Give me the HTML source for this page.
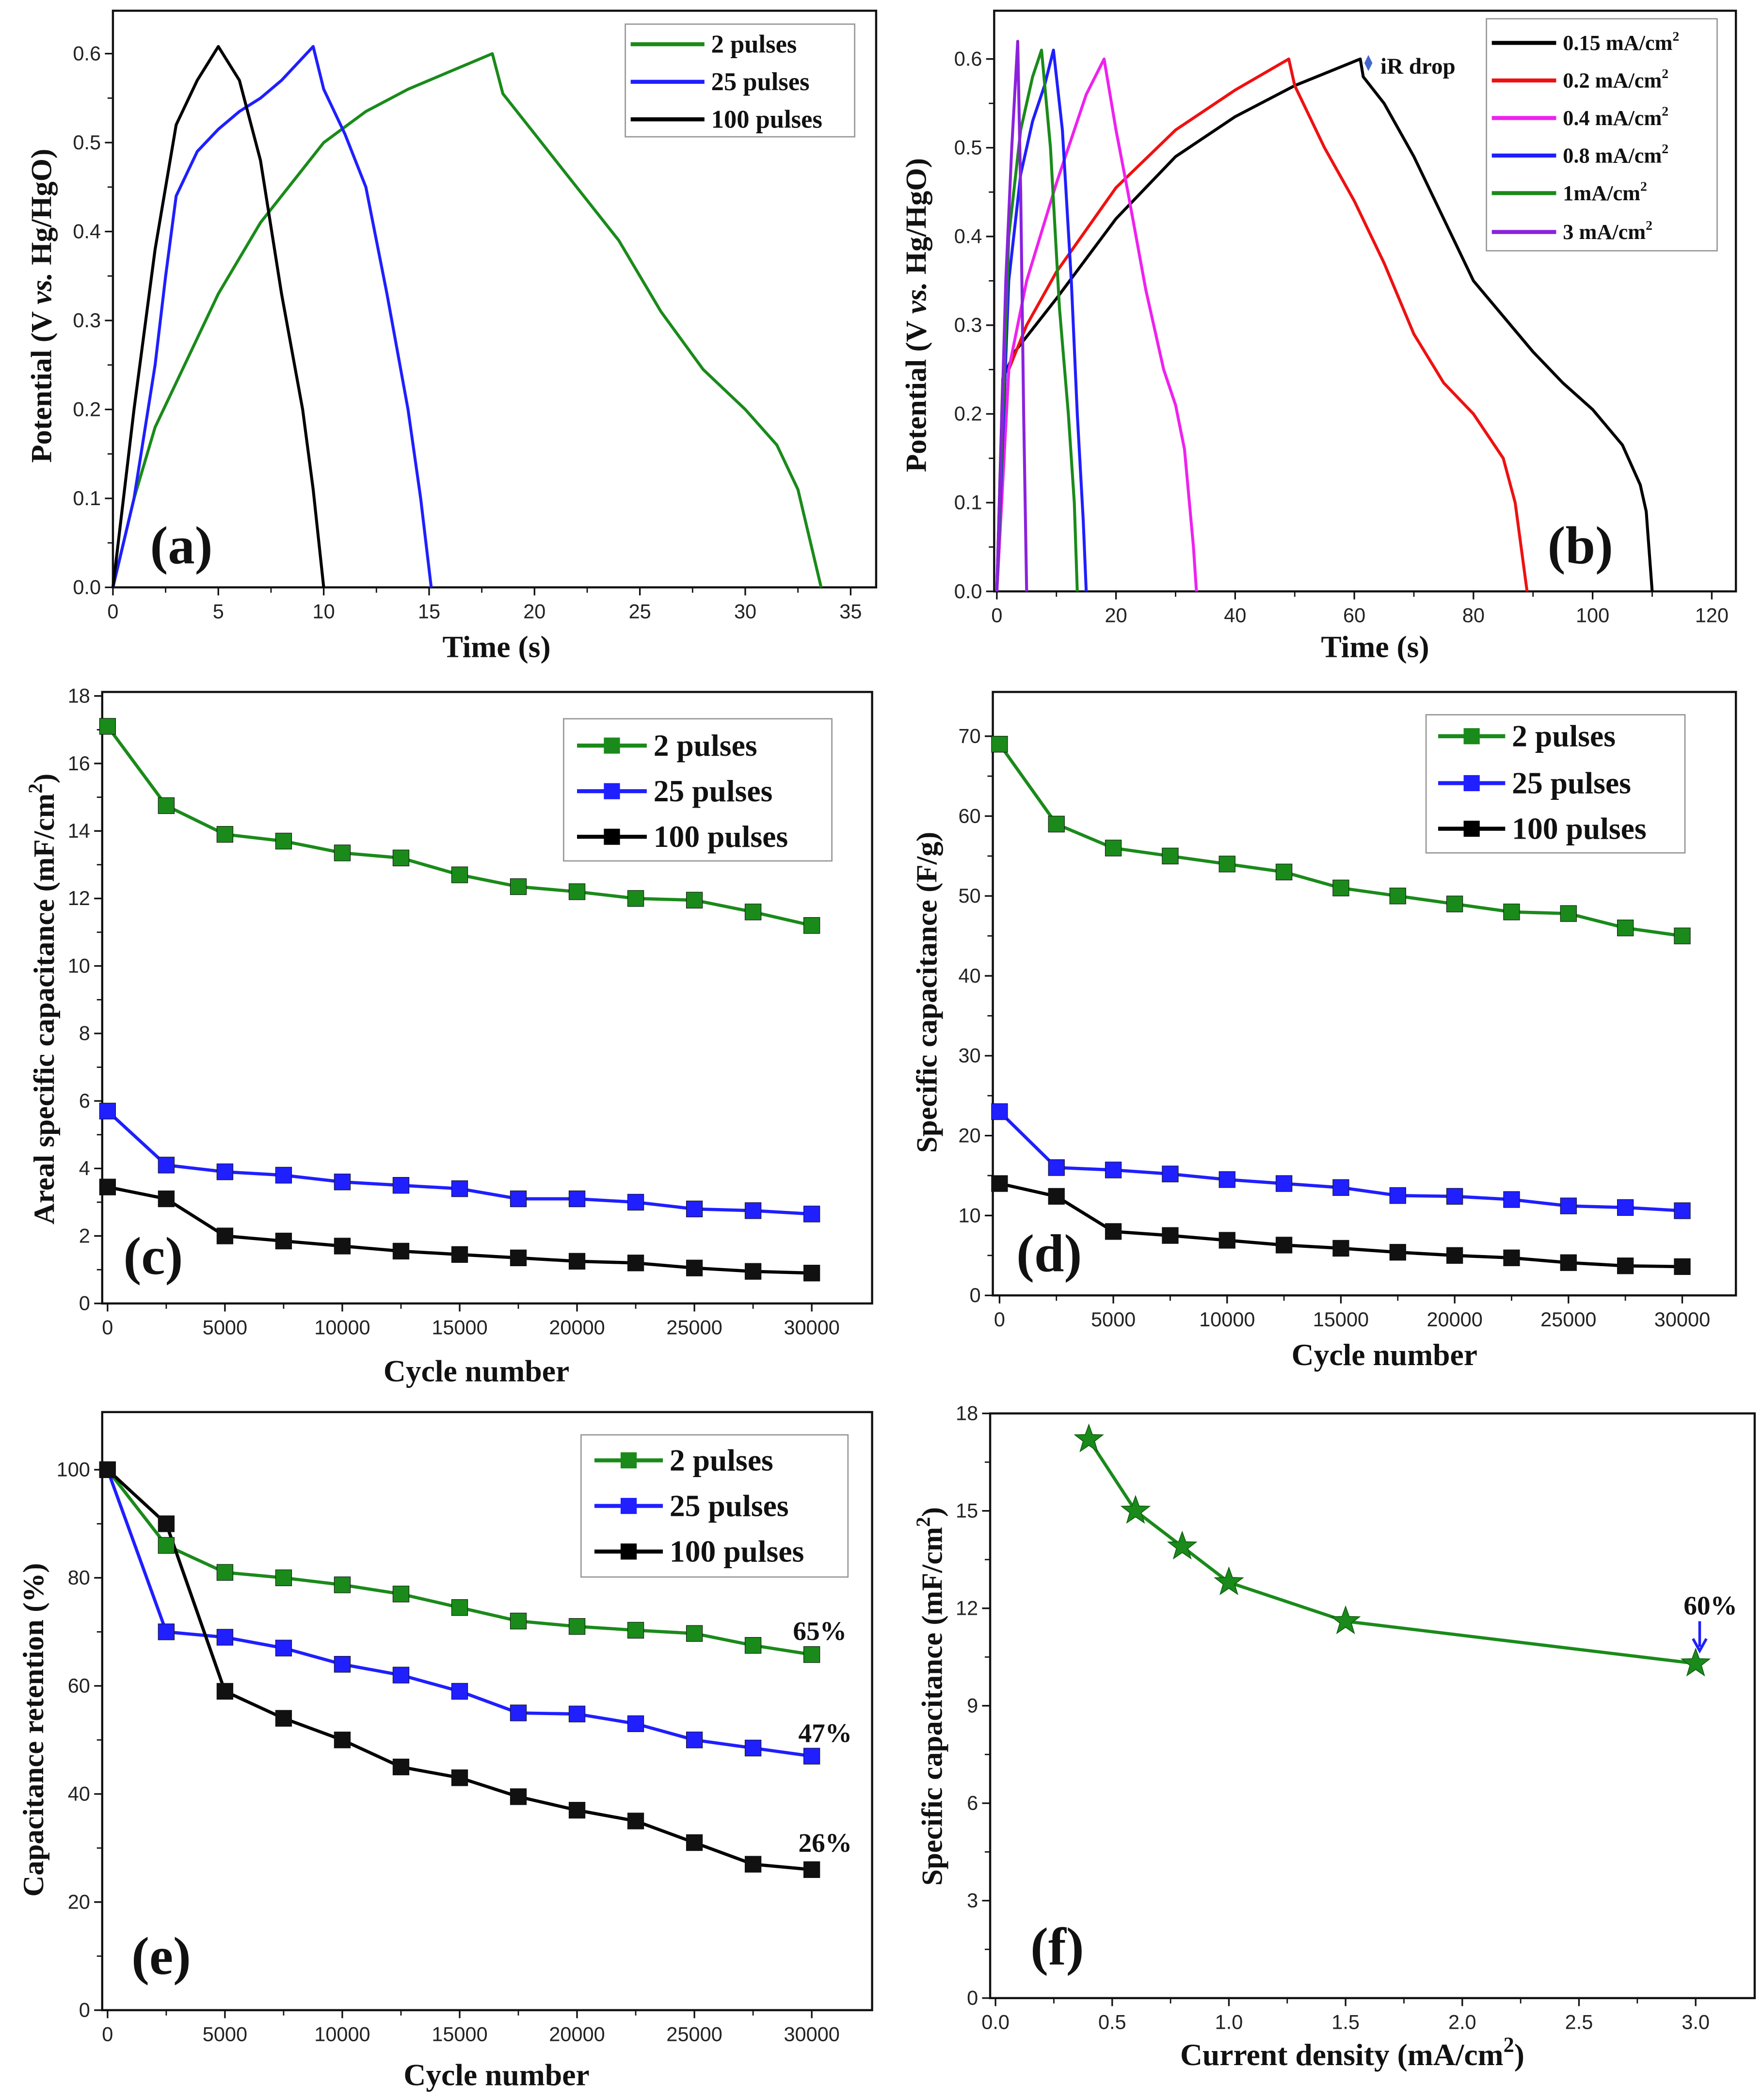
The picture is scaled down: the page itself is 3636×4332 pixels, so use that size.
<!DOCTYPE html>
<html><head><meta charset="utf-8">
<style>
html,body{margin:0;padding:0;background:#fff;}
svg{display:block;}
.tk{font-family:"Liberation Sans",sans-serif;font-size:15px;fill:#222;}
.ttl{font-family:"Liberation Serif",serif;font-weight:bold;fill:#111;}
</style></head>
<body>
<svg id="fig" width="3636" height="4332" viewBox="0 0 1314 1566" xmlns="http://www.w3.org/2000/svg"></svg>
<script>
// ---------- data ----------
const aGreenT=[0,1,2,3,5,7,9,10,12,14,16,18,18.5,20,22,24,26,28,30,31.5,32.5,33.2,33.6];
const aGreenV=[0,0.1,0.18,0.23,0.33,0.41,0.47,0.5,0.535,0.56,0.58,0.6,0.555,0.51,0.45,0.39,0.31,0.245,0.2,0.16,0.11,0.04,0];
const aBlueT=[0,1,2,2.5,3,4,5,6,7,8,9.5,10,11,12,13,14,14.6,15.1];
const aBlueV=[0,0.1,0.25,0.35,0.44,0.49,0.515,0.535,0.55,0.57,0.608,0.56,0.51,0.45,0.33,0.2,0.1,0];
const aBlackT=[0,1,2,3,4,5,6,7,8,9,9.5,10];
const aBlackV=[0,0.2,0.38,0.52,0.57,0.608,0.57,0.48,0.33,0.2,0.11,0];
const b015T=[0,1,3,10,20,30,40,50,61,61.5,65,70,75,80,85,90,95,100,105,108,109,110];
const b015V=[0,0.24,0.27,0.33,0.42,0.49,0.535,0.57,0.6,0.58,0.55,0.49,0.42,0.35,0.31,0.27,0.235,0.205,0.165,0.12,0.09,0];
const b02T=[0,2,5,10,20,30,40,49,50,55,60,65,70,75,80,85,87,88,89];
const b02V=[0,0.25,0.3,0.36,0.455,0.52,0.565,0.6,0.57,0.5,0.44,0.37,0.29,0.235,0.2,0.15,0.1,0.05,0];
const b04T=[0,2,5,10,15,18,20,22,25,28,30,31.5,33,33.5];
const b04V=[0,0.25,0.35,0.46,0.56,0.6,0.52,0.45,0.34,0.25,0.21,0.16,0.05,0];
const b08T=[0,2,4,6,8,9.5,11,12.5,13.5,14.5,15];
const b08V=[0,0.35,0.47,0.53,0.57,0.61,0.52,0.35,0.2,0.08,0];
const b1T=[0,2,4,6,7.5,9,10.5,12,13,13.5];
const b1V=[0,0.4,0.52,0.58,0.61,0.5,0.32,0.2,0.1,0];
const b3T=[0,1.5,2.5,3.5,4,4.5,5];
const b3V=[0,0.35,0.5,0.62,0.45,0.2,0];
const cycles=[0,2500,5000,7500,10000,12500,15000,17500,20000,22500,25000,27500,30000];
const cGreen=[17.1,14.75,13.9,13.7,13.35,13.2,12.7,12.35,12.2,12.0,11.95,11.6,11.2];
const cBlue=[5.7,4.1,3.9,3.8,3.6,3.5,3.4,3.1,3.1,3.0,2.8,2.75,2.65];
const cBlack=[3.45,3.1,2.0,1.85,1.7,1.55,1.45,1.35,1.25,1.2,1.05,0.95,0.9];
const dGreen=[69,59,56,55,54,53,51,50,49,48,47.8,46,45];
const dBlue=[23,16,15.7,15.2,14.5,14,13.5,12.5,12.4,12,11.2,11,10.6];
const dBlack=[14,12.4,8,7.5,6.9,6.3,5.9,5.4,5,4.7,4.1,3.7,3.6];
const eGreen=[100,86,81,80,78.7,77,74.5,72,71,70.3,69.7,67.5,65.8];
const eBlue=[100,70,69,67,64,62,59,55,54.8,53,50,48.5,47];
const eBlack=[100,90,59,54,50,45,43,39.5,37,35,31,27,26];
const fCurrent=[0.4,0.6,0.8,1.0,1.5,3.0];
const fCap=[17.2,15,13.9,12.8,11.6,10.3];
const aXTicks=[0,5,10,15,20,25,30,35];
const aYTicks=[0,0.1,0.2,0.3,0.4,0.5,0.6];
const bXTicks=[0,20,40,60,80,100,120];
const cYTicks=[0,2,4,6,8,10,12,14,16,18];
const cycTicks=[0,5000,10000,15000,20000,25000,30000];
const dYTicks=[0,10,20,30,40,50,60,70];
const eYTicks=[0,20,40,60,80,100];
const fXTicks=[0,0.5,1.0,1.5,2.0,2.5,3.0];
const fYTicks=[0,3,6,9,12,15,18];

// ---------- helpers ----------
const NS='http://www.w3.org/2000/svg';
const svg=document.getElementById('fig');
function el(tag,attrs,parent){const e=document.createElementNS(NS,tag);for(const k in attrs)e.setAttribute(k,attrs[k]);(parent||svg).appendChild(e);return e;}
function lin(d0,d1,p0,p1){return v=>p0+(v-d0)*(p1-p0)/(d1-d0);}

function axes(name,fx0,fy0,fx1,fy1,sx,sy,xt,yt,xminor,yminor,xfmt,yfmt){
  const g=el('g',{});
  
  
  const fr=el('rect',{x:fx0,y:fy0,width:fx1-fx0,height:fy1-fy0,fill:'none',stroke:'#111','stroke-width':1.6},g);
  
  
  xt.forEach((v,i)=>{
    const x=sx(v);
    el('line',{x1:x,y1:fy1,x2:x,y2:fy1+6,stroke:'#111','stroke-width':1.2},g);
    const t=el('text',{x:x,y:fy1+23,'text-anchor':'middle',class:'tk'},g);
    t.textContent=xfmt(v);
    
    
    if(i<xt.length-1 && xminor){const xm=sx(v+(xt[i+1]-v)/2);el('line',{x1:xm,y1:fy1,x2:xm,y2:fy1+4,stroke:'#111','stroke-width':1},g);}
  });
  yt.forEach((v,i)=>{
    const y=sy(v);
    el('line',{x1:fx0,y1:y,x2:fx0-6,y2:y,stroke:'#111','stroke-width':1.2},g);
    const t=el('text',{x:fx0-9,y:y+5,'text-anchor':'end',class:'tk'},g);
    t.textContent=yfmt(v);
    
    
    if(i<yt.length-1 && yminor){const ym=sy(v+(yt[i+1]-v)/2);el('line',{x1:fx0,y1:ym,x2:fx0-4,y2:ym,stroke:'#111','stroke-width':1},g);}
  });
  return g;
}
function line(name,xs,ys,sx,sy,color,w){
  const p=el('polyline',{points:xs.map((x,i)=>sx(x).toFixed(2)+','+sy(ys[i]).toFixed(2)).join(' '),fill:'none',stroke:color,'stroke-width':w||2.2,'stroke-linejoin':'round'});
  
  
  return p;
}
function squares(name,xs,ys,sx,sy,color,s){
  xs.forEach((x,i)=>{
    const r=el('rect',{x:sx(x)-s/2,y:sy(ys[i])-s/2,width:s,height:s,fill:color,stroke:'#111','stroke-width':0.4});
    
    
  });
}
function text(name,str,x,y,size,cls,anchor,rot){
  const t=el('text',{x:x,y:y,class:cls||'ttl','font-size':size,'text-anchor':anchor||'middle'});
  if(rot) t.setAttribute('transform','rotate(-90 '+x+' '+y+')');
  t.innerHTML=str;
  
  
  return t;
}
function legendBox(name,x,y,w,h){
  const r=el('rect',{x:x,y:y,width:w,height:h,fill:'#fff',stroke:'#999','stroke-width':1});
  
  
}
function legendEntry(name,x1,x2,y,color,label,size,marker){
  const l=el('line',{x1:x1,y1:y,x2:x2,y2:y,stroke:color,'stroke-width':3});
  
  
  if(marker){const m=el('rect',{x:(x1+x2)/2-6,y:y-6,width:12,height:12,fill:color});
    
    }
  text(name,label,x2+5,y+size*0.33,size,'ttl','start');
}
const f1=v=>v.toFixed(1), f0=v=>String(v);

// ---------- panel a ----------
{const sx=lin(0,35,84,634), sy=lin(0,0.6,438,40);
 axes('panel-a',84,8,653,438,sx,sy,aXTicks,aYTicks,true,true,f0,f1);
 line('curve-a-2-pulses',aGreenT,aGreenV,sx,sy,'#1a8a1a');
 line('curve-a-25-pulses',aBlueT,aBlueV,sx,sy,'#1f1fff');
 line('curve-a-100-pulses',aBlackT,aBlackV,sx,sy,'#000');
 legendBox('legend-a',466,18,171,84);
 legendEntry('legend-a-2-pulses',470,525,33,'#1a8a1a','2 pulses',19);
 legendEntry('legend-a-25-pulses',470,525,61,'#1f1fff','25 pulses',19);
 legendEntry('legend-a-100-pulses',470,525,89,'#000','100 pulses',19);
 text('x-axis-title-a','Time (s)',370,490,23);
 text('y-axis-title-a','Potential (V <tspan font-style="italic">vs.</tspan> Hg/HgO)',38,228,22,'ttl','middle',true);
 text('panel-label-a','(a)',135,420,40);
}
// ---------- panel b ----------
{const sx=lin(0,120,743,1276), sy=lin(0,0.6,441,44);
 axes('panel-b',741,8,1294,441,sx,sy,bXTicks,aYTicks,true,true,f0,f1);
 line('curve-b-0.15',b015T,b015V,sx,sy,'#000');
 line('curve-b-0.2',b02T,b02V,sx,sy,'#ee1111');
 line('curve-b-0.4',b04T,b04V,sx,sy,'#ee22ee');
 line('curve-b-0.8',b08T,b08V,sx,sy,'#1f1fff');
 line('curve-b-1',b1T,b1V,sx,sy,'#1a8a1a');
 line('curve-b-3',b3T,b3V,sx,sy,'#8a22dd');
 legendBox('legend-b',1108,14,172,173);
 const lb=[['0.15 mA/cm','#000'],['0.2 mA/cm','#ee1111'],['0.4 mA/cm','#ee22ee'],['0.8 mA/cm','#1f1fff'],['1mA/cm','#1a8a1a'],['3 mA/cm','#8a22dd']];
 const ly=[32,60,88,116,144,173];
 lb.forEach((e,i)=>legendEntry('legend-b-entry',1112,1160,ly[i],e[1],e[0]+'<tspan dy="-7" font-size="10">2</tspan>',16));
 const dm=el('path',{d:'M1020,41 L1023,47 L1020,53 L1017,47 Z',fill:'#4466cc'});
 
 
 text('ir-drop-label','iR drop',1029,55,17,'ttl','start');
 text('x-axis-title-b','Time (s)',1025,490,23);
 text('y-axis-title-b','Potential (V <tspan font-style="italic">vs.</tspan> Hg/HgO)',690,235,22,'ttl','middle',true);
 text('panel-label-b','(b)',1178,420,40);
}
// ---------- panel c ----------
{const sx=lin(0,30000,80,605), sy=lin(0,18,972,519);
 axes('panel-c',76,516,650,972,sx,sy,cycTicks,cYTicks,true,true,f0,f0);
 line('series-c-2-pulses',cycles,cGreen,sx,sy,'#1a8a1a',2.4);
 line('series-c-25-pulses',cycles,cBlue,sx,sy,'#1f1fff',2.4);
 line('series-c-100-pulses',cycles,cBlack,sx,sy,'#000',2.4);
 squares('series-c-2-pulses',cycles,cGreen,sx,sy,'#1a8a1a',12);
 squares('series-c-25-pulses',cycles,cBlue,sx,sy,'#1f1fff',12);
 squares('series-c-100-pulses',cycles,cBlack,sx,sy,'#111',12);
 legendBox('legend-c',420,536,200,106);
 legendEntry('legend-c-2-pulses',430,482,556,'#1a8a1a','2 pulses',23,true);
 legendEntry('legend-c-25-pulses',430,482,590,'#1f1fff','25 pulses',23,true);
 legendEntry('legend-c-100-pulses',430,482,624,'#000','100 pulses',23,true);
 text('x-axis-title-c','Cycle number',355,1030,23);
 text('y-axis-title-c','Areal specific capacitance (mF/cm<tspan dy="-9" font-size="15">2</tspan><tspan dy="9">)</tspan>',40,745,22,'ttl','middle',true);
 text('panel-label-c','(c)',114,950,40);
}
// ---------- panel d ----------
{const sx=lin(0,30000,745,1254), sy=lin(0,70,966,549);
 axes('panel-d',740,516,1294,966,sx,sy,cycTicks,dYTicks,true,true,f0,f0);
 line('series-d-2-pulses',cycles,dGreen,sx,sy,'#1a8a1a',2.4);
 line('series-d-25-pulses',cycles,dBlue,sx,sy,'#1f1fff',2.4);
 line('series-d-100-pulses',cycles,dBlack,sx,sy,'#000',2.4);
 squares('series-d-2-pulses',cycles,dGreen,sx,sy,'#1a8a1a',12);
 squares('series-d-25-pulses',cycles,dBlue,sx,sy,'#1f1fff',12);
 squares('series-d-100-pulses',cycles,dBlack,sx,sy,'#111',12);
 legendBox('legend-d',1063,533,193,103);
 legendEntry('legend-d-2-pulses',1072,1122,549,'#1a8a1a','2 pulses',23,true);
 legendEntry('legend-d-25-pulses',1072,1122,584,'#1f1fff','25 pulses',23,true);
 legendEntry('legend-d-100-pulses',1072,1122,618,'#000','100 pulses',23,true);
 text('x-axis-title-d','Cycle number',1032,1018,23);
 text('y-axis-title-d','Specific capacitance (F/g)',698,740,22,'ttl','middle',true);
 text('panel-label-d','(d)',782,948,40);
}
// ---------- panel e ----------
{const sx=lin(0,30000,80,605), sy=lin(0,100,1499,1096);
 axes('panel-e',76,1053,650,1499,sx,sy,cycTicks,eYTicks,true,true,f0,f0);
 line('series-e-2-pulses',cycles,eGreen,sx,sy,'#1a8a1a',2.4);
 line('series-e-25-pulses',cycles,eBlue,sx,sy,'#1f1fff',2.4);
 line('series-e-100-pulses',cycles,eBlack,sx,sy,'#000',2.4);
 squares('series-e-2-pulses',cycles,eGreen,sx,sy,'#1a8a1a',12);
 squares('series-e-25-pulses',cycles,eBlue,sx,sy,'#1f1fff',12);
 squares('series-e-100-pulses',cycles,eBlack,sx,sy,'#111',12);
 legendBox('legend-e',433,1070,199,106);
 legendEntry('legend-e-2-pulses',443,494,1089,'#1a8a1a','2 pulses',23,true);
 legendEntry('legend-e-25-pulses',443,494,1123,'#1f1fff','25 pulses',23,true);
 legendEntry('legend-e-100-pulses',443,494,1157,'#000','100 pulses',23,true);
 text('annotation-65','65%',611,1223,20,'ttl','middle');
 text('annotation-47','47%',615,1299,20,'ttl','middle');
 text('annotation-26','26%',615,1381,20,'ttl','middle');
 text('x-axis-title-e','Cycle number',370,1555,23);
 text('y-axis-title-e','Capacitance retention (%)',32,1290,22,'ttl','middle',true);
 text('panel-label-e','(e)',120,1472,40);
}
// ---------- panel f ----------
{const sx=lin(0,3,742,1264), sy=lin(0,18,1490,1054);
 axes('panel-f',738,1054,1308,1490,sx,sy,fXTicks,fYTicks,true,true,f1,f0);
 line('series-f-capacitance',fCurrent,fCap,sx,sy,'#1a8a1a',2.4);
 fCurrent.forEach((x,i)=>{
   const cx=sx(x), cy=sy(fCap[i]), R=11, r=4.5; let pts=[];
   for(let k=0;k<10;k++){const a=-Math.PI/2+k*Math.PI/5, rr=k%2?r:R; pts.push((cx+rr*Math.cos(a)).toFixed(2)+','+(cy+rr*Math.sin(a)).toFixed(2));}
   const s=el('polygon',{points:pts.join(' '),fill:'#1a8a1a',stroke:'#0d5d0d','stroke-width':0.6});
   
   
 });
 text('annotation-60','60%',1275,1204,20,'ttl','middle');
 const ar=el('path',{d:'M1267,1209 L1267,1228 M1262,1222 L1267,1231 L1272,1222',fill:'none',stroke:'#1f1fff','stroke-width':2});
 
 
 text('x-axis-title-f','Current density (mA/cm<tspan dy="-10" font-size="16">2</tspan><tspan dy="10">)</tspan>',1008,1540,23);
 text('y-axis-title-f','Specific capacitance (mF/cm<tspan dy="-9" font-size="15">2</tspan><tspan dy="9">)</tspan>',702,1265,22,'ttl','middle',true);
 text('panel-label-f','(f)',788,1465,40);
}
</script>
</body></html>
